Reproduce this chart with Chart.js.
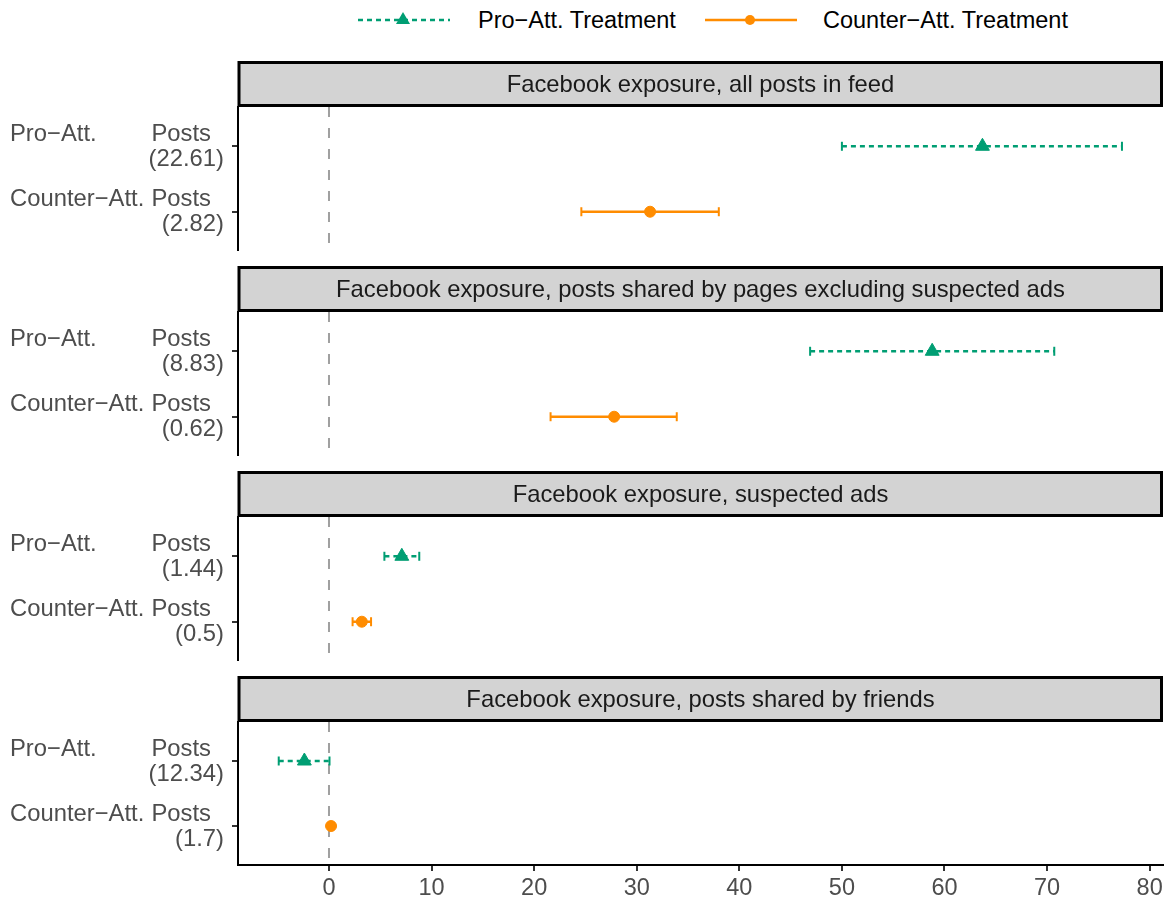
<!DOCTYPE html>
<html>
<head>
<meta charset="utf-8">
<script src="https://cdn.jsdelivr.net/npm/chart.js@4.4.0/dist/chart.umd.min.js"></script>
<style>
  body { margin: 0; background: #fff; font-family: "Liberation Sans", Arial, sans-serif; }
  #wrap { position: relative; width: 1164px; height: 903px; overflow: hidden; }
  .panel { position: absolute; left: 0; width: 1164px; }
  .panel canvas { display: block; }
  .leg-text { position: absolute; top: 7px; font-size: 23.5px; color: #000; line-height: 26px; white-space: nowrap; }
  svg { position: absolute; top: 0; }
</style>
</head>
<body>
<div id="wrap">
  <svg width="1164" height="42" style="left:0">
    <line x1="358" y1="20" x2="450" y2="20" stroke="#009E73" stroke-width="2.5" stroke-dasharray="5 4"/>
    <polygon points="403,12 410,24 396,24" fill="#009E73"/>
    <line x1="705" y1="20" x2="797" y2="20" stroke="#FF8C00" stroke-width="2.5"/>
    <circle cx="750" cy="20" r="5" fill="#FF8C00"/>
  </svg>
  <div class="leg-text" style="left:478px">Pro−Att. Treatment</div>
  <div class="leg-text" style="left:823px">Counter−Att. Treatment</div>
</div>
<script>
// facet titles and row labels
const panelTitles = [
  'Facebook exposure, all posts in feed',
  'Facebook exposure, posts shared by pages excluding suspected ads',
  'Facebook exposure, suspected ads',
  'Facebook exposure, posts shared by friends'
];
const rowLabels = ['Pro−Att. Posts', 'Counter−Att. Posts'];
const postCounts = [
  ['22.61', '2.82'],
  ['8.83', '0.62'],
  ['1.44', '0.5'],
  ['12.34', '1.7']
];

// estimates and 95% intervals, one entry per panel
const proEst = [63.7, 58.8, 7.1, -2.4];
const proLow = [50.0, 46.9, 5.4, -4.9];
const proHigh = [77.3, 70.7, 8.8, 0.05];
const counterEst = [31.3, 27.8, 3.2, 0.2];
const counterLow = [24.6, 21.6, 2.3, 0.0];
const counterHigh = [38.0, 33.9, 4.1, 0.4];

const xTicks = [0, 10, 20, 30, 40, 50, 60, 70, 80];
const xMin = -8.87, xMax = 81.3;

const GREEN = '#009E73';
const ORANGE = '#FF8C00';
const FONT = '"Liberation Sans", Arial, sans-serif';

// strip header, zero line and the two-part row labels
const facetPlugin = {
  id: 'facet',
  beforeDatasetsDraw(chart, args, opts) {
    const { ctx, chartArea, scales } = chart;
    const x0 = scales.x.getPixelForValue(0);
    ctx.save();
    ctx.strokeStyle = '#a0a0a0';
    ctx.lineWidth = 2;
    ctx.setLineDash([10, 11]);
    ctx.beginPath();
    ctx.moveTo(x0, chartArea.top);
    ctx.lineTo(x0, chartArea.bottom);
    ctx.stroke();
    ctx.restore();
  },
  afterDraw(chart, args, opts) {
    const { ctx, chartArea, scales } = chart;
    const i = opts.index;
    ctx.save();
    // strip
    const top = 1.5, h = chartArea.top - 3;
    ctx.fillStyle = '#d3d3d3';
    ctx.fillRect(chartArea.left + 1, top, chartArea.right - chartArea.left - 1, h);
    ctx.strokeStyle = '#000';
    ctx.lineWidth = 3;
    ctx.strokeRect(chartArea.left + 1, top, chartArea.right - chartArea.left - 2.5, h);
    ctx.fillStyle = '#1a1a1a';
    ctx.font = '23.8px ' + FONT;
    ctx.textAlign = 'center';
    ctx.textBaseline = 'middle';
    ctx.fillText(panelTitles[i], (chartArea.left + chartArea.right) / 2, top + h / 2 + 1);

    // y labels
    ctx.font = '23.8px ' + FONT;
    ctx.fillStyle = '#4d4d4d';
    rowLabels.forEach((lab, k) => {
      const py = scales.y.getPixelForValue(k + 1);
      const cut = lab.lastIndexOf(' ');
      ctx.textAlign = 'left';
      ctx.fillText(lab.slice(0, cut), 10, py - 12);
      ctx.textAlign = 'right';
      ctx.fillText(lab.slice(cut + 1), 211, py - 12);
      ctx.fillText('(' + postCounts[i][k] + ')', 224, py + 13);
    });
    ctx.restore();
  }
};

function seriesData(lo, est, hi, row) {
  return [{ x: lo, y: row }, { x: est, y: row }, { x: hi, y: row }];
}

panelTitles.forEach((title, i) => {
  const last = i === panelTitles.length - 1;
  const div = document.createElement('div');
  div.className = 'panel';
  div.style.top = (61 + 205 * i) + 'px';
  const height = last ? 227 : 190;
  div.style.height = height + 'px';
  const canvas = document.createElement('canvas');
  canvas.width = 1164;
  canvas.height = height;
  div.appendChild(canvas);
  document.getElementById('wrap').appendChild(div);

  new Chart(canvas, {
    type: 'scatter',
    data: {
      datasets: [
        {
          label: 'Pro−Att. Treatment',
          data: seriesData(proLow[i], proEst[i], proHigh[i], 1),
          showLine: true,
          borderColor: GREEN,
          borderWidth: 2.5,
          borderDash: [5, 4],
          pointStyle: ['line', 'triangle', 'line'],
          rotation: [90, 0, 90],
          pointRadius: [4.5, 8, 4.5],
          pointBorderWidth: [2, 1, 2],
          pointBackgroundColor: GREEN,
          pointBorderColor: GREEN
        },
        {
          label: 'Counter−Att. Treatment',
          data: seriesData(counterLow[i], counterEst[i], counterHigh[i], 2),
          showLine: true,
          borderColor: ORANGE,
          borderWidth: 2.5,
          pointStyle: ['line', 'circle', 'line'],
          rotation: [90, 0, 90],
          pointRadius: [4.5, 5.5, 4.5],
          pointBorderWidth: [2, 1, 2],
          pointBackgroundColor: ORANGE,
          pointBorderColor: ORANGE
        }
      ]
    },
    options: {
      responsive: false,
      maintainAspectRatio: false,
      animation: false,
      devicePixelRatio: 1,
      layout: { autoPadding: false, padding: { left: 230, right: 1, top: 46, bottom: 0 } },
      plugins: {
        legend: { display: false },
        tooltip: { enabled: false },
        facet: { index: i }
      },
      scales: {
        x: {
          type: 'linear',
          min: xMin,
          max: xMax,
          display: last,
          afterBuildTicks: (s) => { s.ticks = xTicks.map(v => ({ value: v })); },
          afterFit: (s) => {
            s.height = last ? 38 : 0;
            s.paddingLeft = 0;
            s.paddingRight = 0;
          },
          border: { display: true, color: '#000', width: 2 },
          grid: { drawOnChartArea: false, drawTicks: true, tickLength: 6, color: '#333', lineWidth: 2 },
          ticks: { color: '#4d4d4d', font: { size: 23.5, family: FONT }, padding: 3, maxRotation: 0 }
        },
        y: {
          type: 'linear',
          min: 0.4,
          max: 2.6,
          reverse: true,
          afterBuildTicks: (s) => { s.ticks = [{ value: 1 }, { value: 2 }]; },
          afterFit: (s) => { s.width = 8; s.paddingTop = 0; s.paddingBottom = 0; },
          border: { display: true, color: '#000', width: 2 },
          grid: { drawOnChartArea: false, drawTicks: true, tickLength: 6, color: '#333', lineWidth: 2 },
          ticks: { display: false }
        }
      }
    },
    plugins: [facetPlugin]
  });
});
</script>
</body>
</html>
